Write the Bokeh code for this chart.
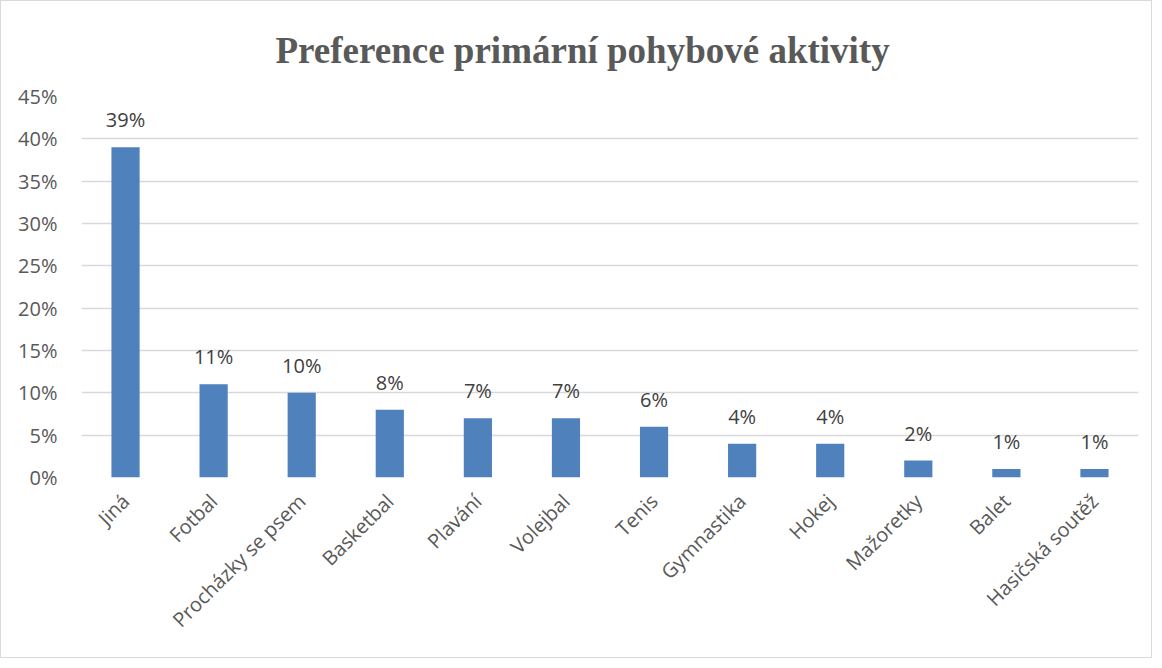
from bokeh.plotting import figure
from bokeh.models import ColumnDataSource, NumeralTickFormatter, FixedTicker
from bokeh.core.properties import value
from bokeh.embed import file_html
from bokeh.resources import INLINE
import math

title_text = "Preference primární pohybové aktivity"
categories = ["Jiná", "Fotbal", "Procházky se psem", "Basketbal", "Plavání", "Volejbal",
              "Tenis", "Gymnastika", "Hokej", "Mažoretky", "Balet", "Hasičská soutěž"]
shares = [0.39, 0.11, 0.10, 0.08, 0.07, 0.07, 0.06, 0.04, 0.04, 0.02, 0.01, 0.01]
share_labels = ["39%", "11%", "10%", "8%", "7%", "7%", "6%", "4%", "4%", "2%", "1%", "1%"]
y_ticks = [0, 0.05, 0.10, 0.15, 0.20, 0.25, 0.30, 0.35, 0.40, 0.45]

src = ColumnDataSource(dict(cat=categories, val=shares, lab=share_labels))

p = figure(x_range=categories, y_range=(0, 0.45), width=1152, height=658,
           output_backend="svg", toolbar_location=None,
           min_border_left=80, min_border_right=15, min_border_top=95, min_border_bottom=182)
p.styles = {"border": "1px solid #d9d9d9"}
p.outline_line_color = None
p.background_fill_color = "white"
p.border_fill_color = "white"

p.title.text = title_text
p.title.text_font = "Liberation Serif"
p.title.text_font_style = "bold"
p.title.text_font_size = "37px"
p.title.text_color = "#595959"
p.title.align = "left"
p.title.offset = 194
p.title.standoff = 52

p.vbar(x="cat", top="val", width=0.32, source=src, color="#4f81bd", line_color=None)
p.text(x="cat", y="val", text="lab", source=src, text_align="center", text_baseline="bottom",
       y_offset=-14, text_font=value("Open Sans"), text_font_size="20px", text_color="#404040")

p.yaxis.ticker = FixedTicker(ticks=y_ticks)
p.yaxis.formatter = NumeralTickFormatter(format="0%")
p.yaxis.axis_line_color = None
p.yaxis.major_tick_line_color = None
p.yaxis.minor_tick_line_color = None
p.yaxis.major_label_text_font = "Open Sans"
p.yaxis.major_label_text_font_size = "20px"
p.yaxis.major_label_text_color = "#595959"
p.yaxis.major_label_standoff = 18

p.xaxis.axis_line_color = None
p.xaxis.major_tick_line_color = None
p.xaxis.major_label_orientation = math.pi / 4
p.xaxis.major_label_text_font = "Open Sans"
p.xaxis.major_label_text_font_size = "20px"
p.xaxis.major_label_text_color = "#595959"
p.xaxis.major_label_standoff = 14

p.xgrid.grid_line_color = None
p.ygrid.grid_line_color = "#d9d9d9"
p.ygrid.grid_line_width = 1.5

open("out.html", "w").write(file_html(p, INLINE))
